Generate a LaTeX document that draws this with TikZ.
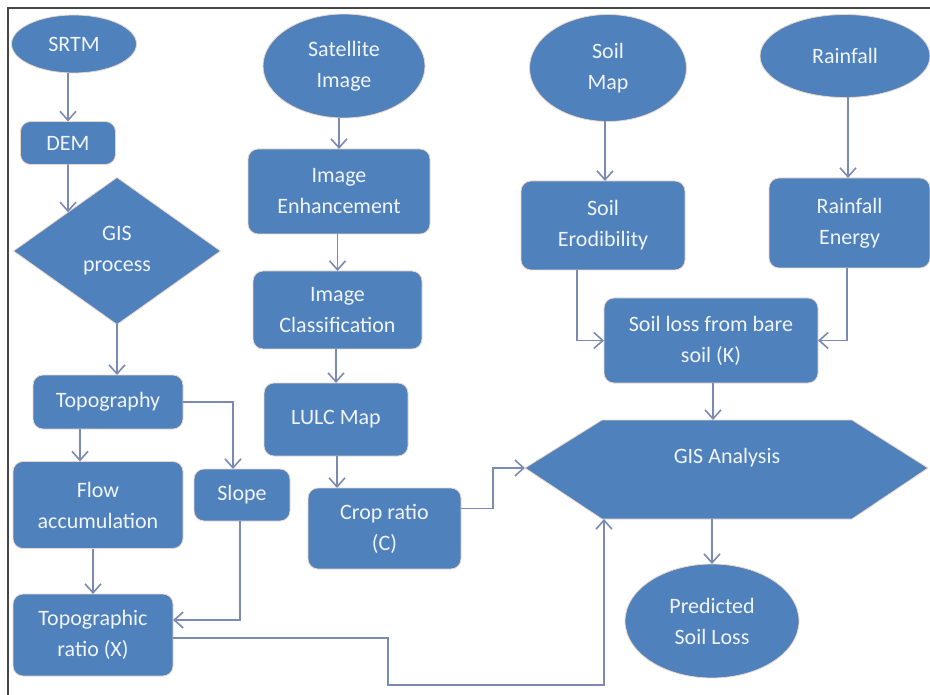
\documentclass[tikz,border=0pt]{standalone}
\usepackage{fontspec}
\setmainfont{Carlito}
\usetikzlibrary{shapes.geometric,arrows.meta,calc}
\definecolor{boxblue}{RGB}{79,129,189}
\definecolor{boxedge}{RGB}{236,214,200}
\definecolor{conncol}{RGB}{122,138,178}
\definecolor{framecol}{RGB}{70,70,70}
\definecolor{txtcol}{RGB}{240,244,252}
\tikzset{
  base/.style={fill=boxblue, draw=boxedge, line width=0.8pt, text=txtcol, align=center, inner sep=0pt, outer sep=0pt,
    font=\fontsize{22}{31}\selectfont},
  rbox/.style={base, rectangle, rounded corners=10pt},
  ell/.style={base, ellipse},
  dia/.style={base, diamond},
  conn/.style={draw=conncol, line width=1.6pt, -{Straight Barb[length=9pt,width=16pt,line width=1.6pt]}},
  framestyle/.style={draw=framecol, line width=1.4pt}
}
\begin{document}
\begin{tikzpicture}[x=1pt,y=-1pt]
\useasboundingbox (0,0) rectangle (930,695);
\draw[framestyle] (930,8) -- (8,8) -- (8,695);

% left column
\node[ell, minimum width=125pt, minimum height=58pt] (srtm) at (74,44) {SRTM};
\node[rbox, minimum width=95pt, minimum height=43pt] (dem) at (68,143) {DEM};
\node[dia, minimum width=207pt, minimum height=147pt] (gisp) at (117,251) {GIS\\process};
\node[rbox, minimum width=150pt, minimum height=54pt] (topo) at (108,402) {Topography};
\node[rbox, minimum width=170pt, minimum height=87pt] (flow) at (98,505) {Flow\\accumulation};
\node[rbox, minimum width=96pt, minimum height=52pt] (slope) at (242,495) {Slope};
\node[rbox, minimum width=160pt, minimum height=82pt] (trat) at (93,635) {Topographic\\ratio (X)};

% middle column
\node[ell, minimum width=162pt, minimum height=104pt] (sat) at (344,66) {Satellite\\Image};
\node[rbox, minimum width=182pt, minimum height=85pt] (enh) at (339,191.5) {Image\\Enhancement};
\node[rbox, minimum width=169pt, minimum height=78pt] (cls) at (337.5,310) {Image\\Classification};
\node[rbox, minimum width=144pt, minimum height=73pt] (lulc) at (336,419.5) {LULC Map};
\node[rbox, minimum width=153pt, minimum height=81pt] (crop) at (384.5,528.5) {Crop ratio\\(C)};

% right part
\node[ell, minimum width=157pt, minimum height=107pt] (soilmap) at (608,68) {Soil\\Map};
\node[ell, minimum width=170pt, minimum height=83pt] (rain) at (845,56) {Rainfall};
\node[rbox, minimum width=164pt, minimum height=89pt] (erod) at (603,225.5) {Soil\\Erodibility};
\node[rbox, minimum width=161pt, minimum height=90pt] (energy) at (849.5,223) {Rainfall\\Energy};
\node[rbox, minimum width=214pt, minimum height=85pt] (soilloss) at (711,340.5) {Soil loss from bare\\soil (K)};

% hexagon
\coordinate (hexL) at (525,468);
\coordinate (hexTL) at (602,420);
\coordinate (hexTR) at (852,420);
\coordinate (hexR) at (928,468);
\coordinate (hexBR) at (852,519);
\coordinate (hexBL) at (602,519);
\coordinate (hexIn) at (604,519);
\filldraw[fill=boxblue, draw=boxedge, line width=0.8pt] (hexL) -- (hexTL) -- (hexTR) -- (hexR) -- (hexBR) -- (hexBL) -- cycle;
\node[text=txtcol, font=\fontsize{22}{31}\selectfont] (gis) at (727,458) {GIS Analysis};

\node[ell, minimum width=174pt, minimum height=114pt] (pred) at (712,621) {Predicted\\Soil Loss};

% connectors left
\draw[conn] (dem.north |- srtm.south) -- (dem.north);
\coordinate (gispin) at ($(gisp.west)!0.527!(gisp.north)$);
\draw[conn] (dem.south) -- (gispin);
\draw[conn] (gisp.south) -- (gisp.south |- topo.north);
\draw[conn] ([xshift=-28pt]topo.south) -- ([xshift=-28pt]topo.south |- flow.north);
\draw[conn] (topo.east) -| ([xshift=-9pt]slope.north);
\draw[conn] (trat.north |- flow.south) -- (trat.north);
\draw[conn] ([xshift=-2pt]slope.south) |- ([yshift=15pt]trat.east);
\draw[conn] ([yshift=-3pt]trat.east) -| (388,685) -| (hexIn);

% connectors middle
\draw[conn] (enh.north |- sat.south) -- (enh.north);
\draw[conn] (cls.north |- enh.south) -- (cls.north);
\draw[conn] (lulc.north |- cls.south) -- (lulc.north);
\draw[conn] ([xshift=-47.5pt]crop.north |- lulc.south) -- ([xshift=-47.5pt]crop.north);
\draw[conn] ([yshift=20pt]crop.east) -- ++(32,0) |- (hexL);

% connectors right
\draw[conn] ([xshift=2pt]erod.north |- soilmap.south) -- ([xshift=2pt]erod.north);
\draw[conn] ([xshift=-1.5pt]energy.north |- rain.south) -- ([xshift=-1.5pt]energy.north);
\draw[conn] ([xshift=-26pt]erod.south) |- (soilloss.west);
\draw[conn] ([xshift=-2.5pt]energy.south) |- (soilloss.east);
\draw[conn] ([xshift=2pt]soilloss.south) -- ([xshift=2pt]soilloss.south |- hexTL);
\draw[conn] (pred.north |- hexBL) -- (pred.north);
\end{tikzpicture}
\end{document}
